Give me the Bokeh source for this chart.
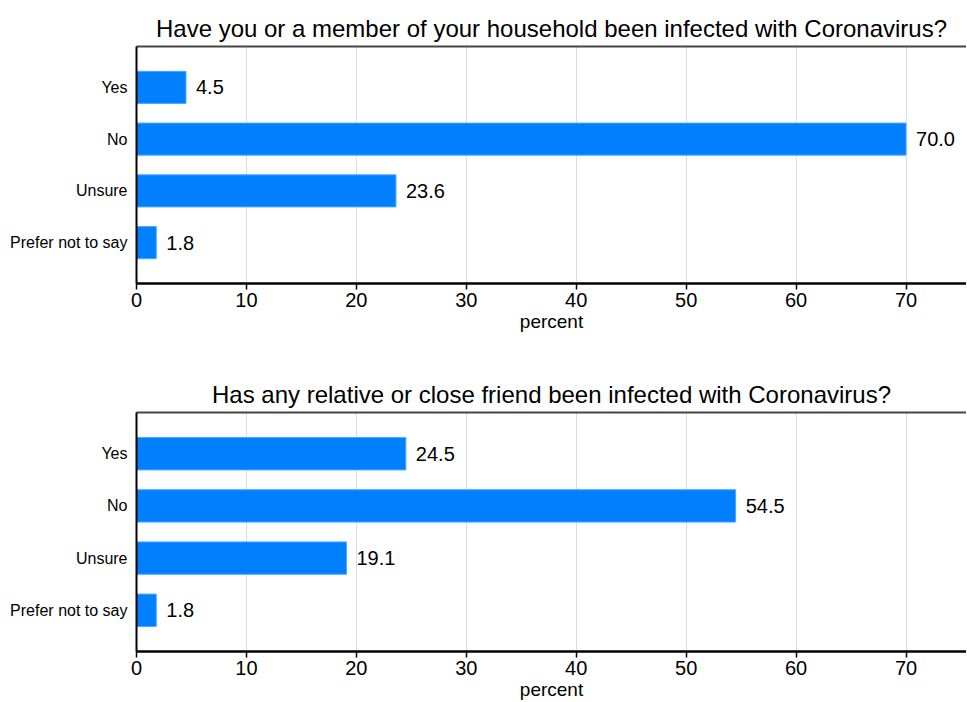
from bokeh.plotting import figure
from bokeh.models import ColumnDataSource, FactorRange, Range1d, LinearAxis, FixedTicker
from bokeh.layouts import column
from bokeh.embed import file_html
from bokeh.resources import INLINE

categories = ["Yes", "No", "Unsure", "Prefer not to say"]
household = [4.5, 70.0, 23.6, 1.8]
relative = [24.5, 54.5, 19.1, 1.8]
x_ticks = [0, 10, 20, 30, 40, 50, 60, 70]
titles = ["Have you or a member of your household been infected with Coronavirus?",
          "Has any relative or close friend been infected with Coronavirus?"]

FONT = "Liberation Sans"
BAR = "#0080ff"
TXT = "#000000"


def make_panel(title, vals, height, b_top, b_bottom):
    p = figure(width=966, height=height, output_backend="svg", toolbar_location=None,
               y_range=FactorRange(factors=list(reversed(categories)), range_padding=0.145),
               x_range=Range1d(0, 75.5),
               min_border_left=136, min_border_right=0,
               min_border_top=b_top, min_border_bottom=b_bottom,
               x_axis_label="percent")
    p.title.text = title
    p.title.align = "center"
    p.title.text_font = FONT
    p.title.text_font_size = "24px"
    p.title.text_font_style = "normal"
    p.title.text_color = TXT
    p.outline_line_color = None
    src = ColumnDataSource(dict(cat=categories, val=vals,
                                lab=["%.1f" % v for v in vals]))
    p.hbar(y="cat", right="val", left=0, height=0.62, source=src,
           fill_color=BAR, line_color="#4da6ff", line_width=1)
    p.text(x="val", y="cat", text="lab", source=src, x_offset=10,
           text_baseline="middle", text_align="left",
           text_font={"value": FONT}, text_font_size={"value": "20px"},
           text_color=TXT)
    # x axis
    xa = p.xaxis[0]
    xa.ticker = FixedTicker(ticks=x_ticks)
    xa.axis_line_width = 2.5
    xa.axis_line_color = "black"
    xa.major_tick_in = 0
    xa.major_tick_out = 6
    xa.major_tick_line_width = 1.5
    xa.minor_tick_line_color = None
    xa.major_label_text_font = FONT
    xa.major_label_text_font_size = "20px"
    xa.major_label_text_color = TXT
    xa.major_label_standoff = 3
    xa.axis_label_text_font = FONT
    xa.axis_label_text_font_size = "19px"
    xa.axis_label_text_font_style = "normal"
    xa.axis_label_text_color = TXT
    xa.axis_label_standoff = 1
    # y axis
    ya = p.yaxis[0]
    ya.axis_line_width = 2
    ya.axis_line_color = "black"
    ya.major_tick_line_color = None
    ya.minor_tick_line_color = None
    ya.major_label_text_font = FONT
    ya.major_label_text_font_size = "16px"
    ya.major_label_text_color = TXT
    ya.major_label_standoff = 3
    # top border as plain axis
    top = LinearAxis(ticker=FixedTicker(ticks=[]), major_label_text_font_size="0px",
                     axis_line_color="#444444", axis_line_width=2,
                     major_tick_line_color=None, minor_tick_line_color=None)
    p.add_layout(top, "above")
    p.ygrid.grid_line_color = None
    p.xgrid.ticker = FixedTicker(ticks=x_ticks)
    p.xgrid.grid_line_color = "#dddddd"
    p.xgrid.grid_line_width = 1
    return p


p1 = make_panel(titles[0], household, 366, 46, 83)
p2 = make_panel(titles[1], relative, 336, 46, 51)
layout = column(p1, p2, spacing=0)

open("out.html", "w").write(file_html(layout, INLINE))
